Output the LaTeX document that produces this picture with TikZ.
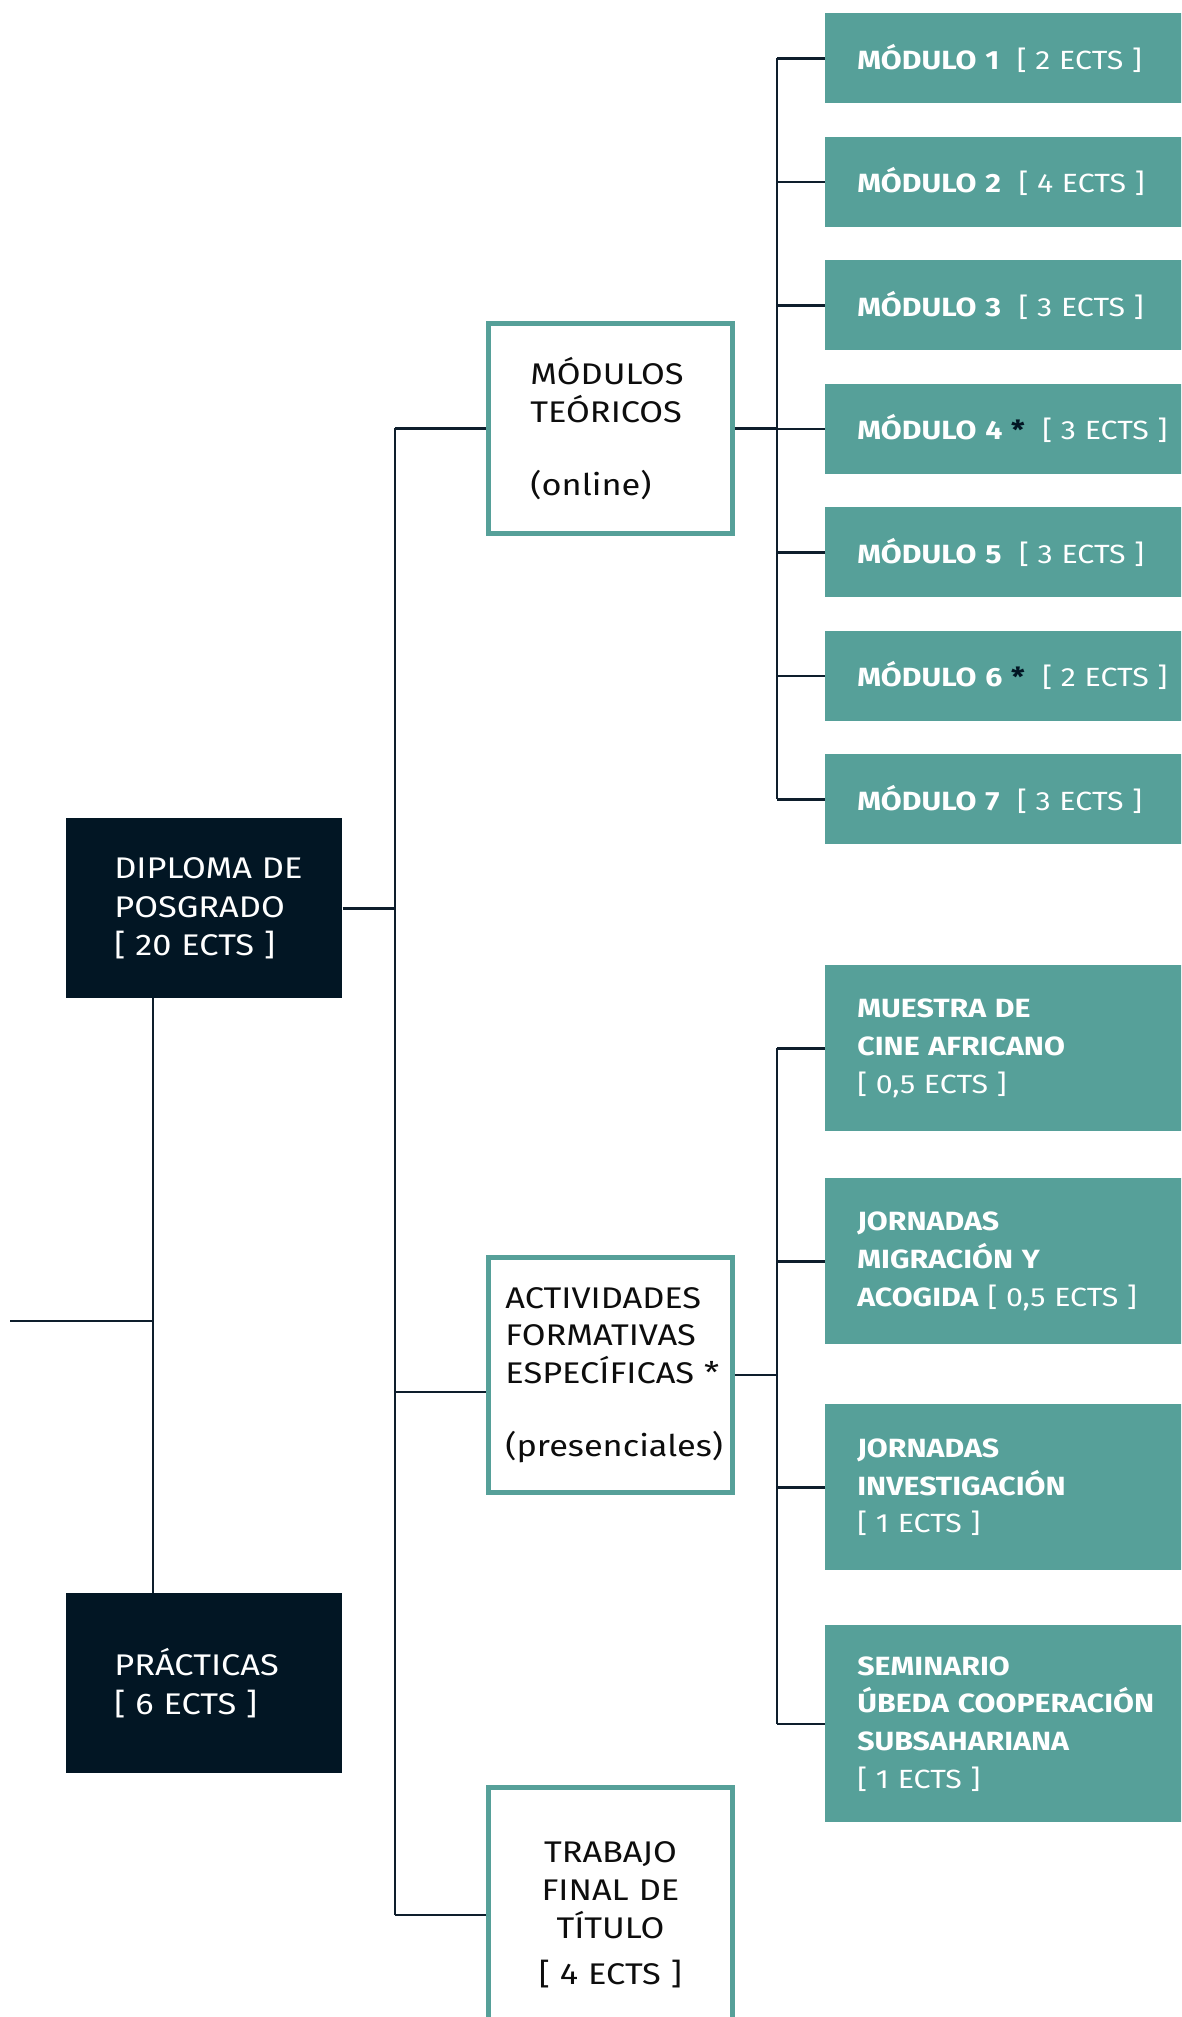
\documentclass[tikz,border=0pt]{standalone}
\usepackage{fontspec}
\setmainfont{Fira Sans}[FakeStretch=1.15]
\usetikzlibrary{positioning, calc}

\definecolor{navyfill}{HTML}{021624}
\definecolor{linkcol}{HTML}{0E1E2C}
\definecolor{tealfill}{HTML}{56A099}
\definecolor{inktext}{HTML}{0D0D0D}

\tikzset{
    link/.style={draw=linkcol, line width=1.4pt},
    navybox/.style={fill=navyfill, text=white, anchor=north west, align=left,
        inner xsep=0.96cm, text width=3.6cm, minimum height=3.6cm,
        font=\fontsize{17}{22}\selectfont},
    tealbox/.style={fill=tealfill, text=white, anchor=north west, align=left,
        inner xsep=0.64cm, text width=6.5cm,
        font=\fontsize{15}{21.5}\selectfont},
    framebox/.style={draw=tealfill, line width=2.8pt, fill=white, text=inktext,
        anchor=north west, font=\fontsize{17}{21.5}\selectfont},
}

\begin{document}
\begin{tikzpicture}[x=0.02cm, y=-0.02cm]
    \useasboundingbox (0,0) rectangle (1181,2017);
    \clip (0,0) rectangle (1181,2017);

    % left column
    \node[navybox] (dipl) at (66,818) {DIPLOMA~DE\\ POSGRADO\\ {[} 20 ECTS ]};
    \node[navybox] (prac) at (66,1593) {PRÁCTICAS\\ {[} 6 ECTS ]};

    % middle column
    \node[framebox, align=left, inner xsep=0.84cm, text width=3.2cm,
        minimum height=4.2cm] (teor) at (486,321)
        {MÓDULOS\\ TEÓRICOS\\[20pt] (online)};
    \node[framebox, align=left, inner xsep=0.34cm, text width=4.2cm,
        minimum height=4.7cm] (activ) at (486,1255)
        {ACTIVIDADES\\ FORMATIVAS\\ ESPECÍFICAS~*\\[20pt] (presenciales)};
    \node[framebox, align=center, inner xsep=0.34cm, text width=4.2cm,
        minimum height=5.1cm] (tfg) at (486,1785)
        {TRABAJO\\ FINAL~DE\\ TÍTULO\\[5pt] {[} 4 ECTS ]};

    % modules
    \foreach \i/\lbl in {1/{MÓDULO 1}, 2/{MÓDULO 2}, 3/{MÓDULO 3},
            4/{MÓDULO 4 {\color{navyfill}*}}, 5/{MÓDULO 5},
            6/{MÓDULO 6 {\color{navyfill}*}}, 7/{MÓDULO 7}}
        \node[tealbox, minimum height=1.8cm] (m\i) at (825,{13+123.5*(\i-1)})
            {\textbf{\lbl}\ \ {[} 
            \ifcase\i\or 2\or 4\or 3\or 3\or 3\or 2\or 3\fi\ ECTS ]};

    % activities
    \node[tealbox, minimum height=3.32cm] (a1) at (825,965)
        {\textbf{MUESTRA DE}\\ \textbf{CINE AFRICANO}\\ {[} 0,5 ECTS ]};
    \node[tealbox, minimum height=3.32cm] (a2) at (825,1178)
        {\textbf{JORNADAS}\\ \textbf{MIGRACIÓN Y}\\ \textbf{ACOGIDA} {[} 0,5 ECTS ]};
    \node[tealbox, minimum height=3.32cm] (a3) at (825,1404)
        {\textbf{JORNADAS}\\ \textbf{INVESTIGACIÓN}\\ {[} 1 ECTS ]};
    \node[tealbox, minimum height=3.94cm] (a4) at (825,1625)
        {\textbf{SEMINARIO}\\ \textbf{ÚBEDA~COOPERACIÓN}\\ \textbf{SUBSAHARIANA}\\ {[} 1 ECTS ]};

    % connectors
    \coordinate (trunk) at (395,0);
    \coordinate (spine) at (777,0);
    \coordinate (drop) at (153,998);
    \coordinate (stub) at (10,1321);
    \coordinate (ain) at (395,1392);

    \draw[link] (dipl.east) -- (dipl.east -| trunk);
    \draw[link] (teor.west -| trunk) -- (tfg.west -| trunk);
    \draw[link] (teor.west -| trunk) -- (teor.west);
    \draw[link] (ain) -- (ain -| activ.west);
    \draw[link] (tfg.west -| trunk) -- (tfg.west);
    \draw[link] (drop) -- (drop |- prac.north);
    \draw[link] (stub) -- (stub -| drop);

    \draw[link] (m1.west -| spine) -- (m7.west -| spine);
    \foreach \i in {1,...,7}
        \draw[link] (m\i.west -| spine) -- (m\i.west);
    \draw[link] (teor.east) -- (teor.east -| spine);

    \draw[link] (a1.west -| spine) -- (a4.west -| spine);
    \foreach \i in {1,...,4}
        \draw[link] (a\i.west -| spine) -- (a\i.west);
    \draw[link] (activ.east) -- (activ.east -| spine);
\end{tikzpicture}
\end{document}
